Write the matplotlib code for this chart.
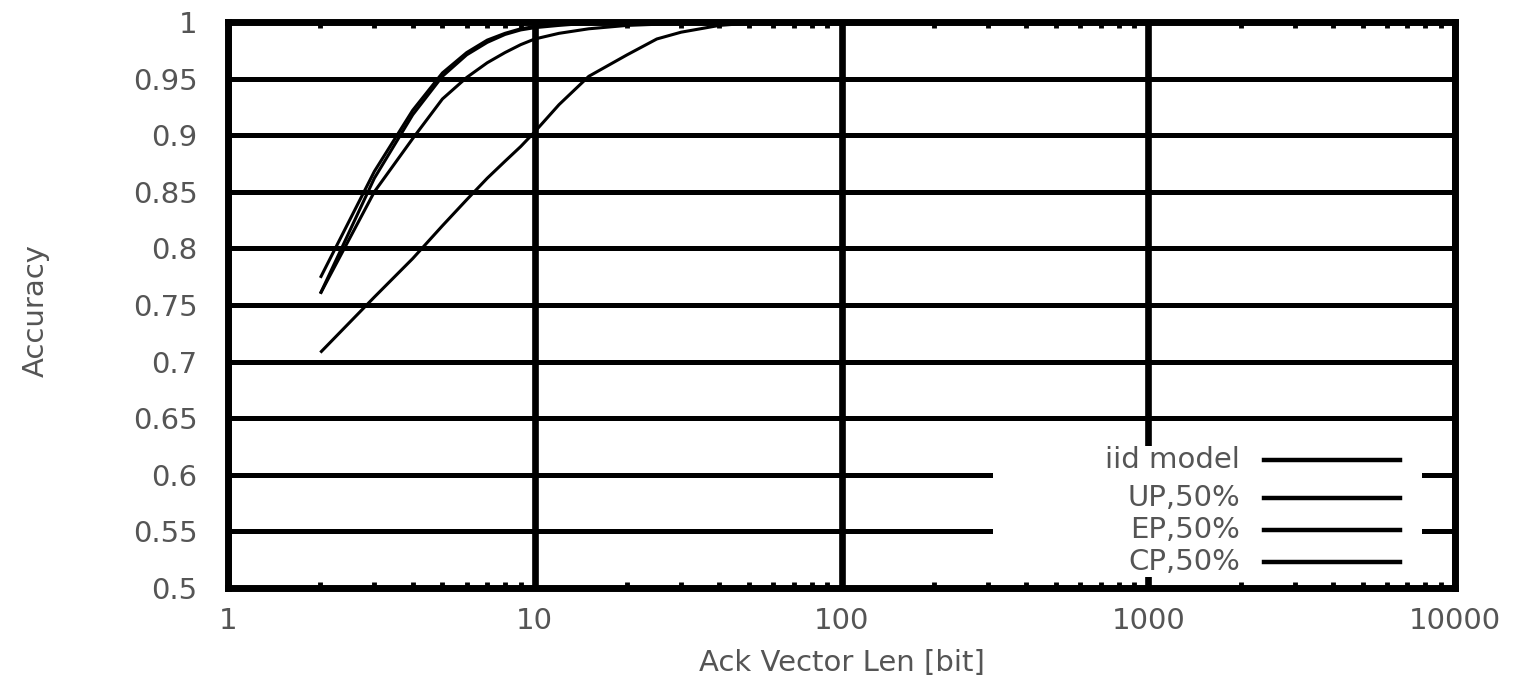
import matplotlib
matplotlib.use('Agg')
import matplotlib.pyplot as plt
from matplotlib.patches import Rectangle
from matplotlib.lines import Line2D
from matplotlib.ticker import FixedLocator, NullFormatter

# values
ack_len = [2, 3, 4, 5, 6, 7, 8, 9, 10, 12, 15, 20, 25, 30, 40, 50]
acc_iid = [0.708, 0.757, 0.791, 0.820, 0.843, 0.862, 0.877, 0.890, 0.903,
           0.927, 0.952, 0.971, 0.985, 0.991, 0.997, 0.999]
acc_up = [0.774, 0.868, 0.922, 0.955, 0.973, 0.984, 0.990, 0.994, 0.996,
          0.998, 0.999, 1.0, 1.0, 1.0, 1.0, 1.0]
acc_ep = [0.760, 0.862, 0.918, 0.952, 0.971, 0.982, 0.989, 0.993, 0.995,
          0.997, 0.999, 1.0, 1.0, 1.0, 1.0, 1.0]
acc_cp = [0.760, 0.850, 0.897, 0.932, 0.951, 0.964, 0.973, 0.980, 0.985,
          0.990, 0.994, 0.997, 0.998, 0.999, 1.0, 1.0]

series_names = ['iid model', 'UP,50%', 'EP,50%', 'CP,50%']
series_vals = [acc_iid, acc_up, acc_ep, acc_cp]

x_ticks = [1, 10, 100, 1000, 10000]
x_labels = ['1', '10', '100', '1000', '10000']
y_ticks = [0.5, 0.55, 0.6, 0.65, 0.7, 0.75, 0.8, 0.85, 0.9, 0.95, 1.0]
y_labels = ['0.5', '0.55', '0.6', '0.65', '0.7', '0.75', '0.8', '0.85', '0.9', '0.95', '1']

txt_col = '#555555'
fs = 21

fig = plt.figure(figsize=(15.24, 6.91), dpi=100)
ax = fig.add_axes([228 / 1524, 1 - 588 / 691, 1227 / 1524, 566 / 691])
ax.set_xscale('log')
ax.set_xlim(1, 10000)
ax.set_ylim(0.5, 1.0)

# grid drawn by hand so the legend box can sit on top of it
for yv in y_ticks:
    ax.axhline(yv, color='black', lw=3.6, zorder=1)
for xv in x_ticks:
    ax.axvline(xv, color='black', lw=4.8, zorder=1)

for vals in series_vals:
    ax.plot(ack_len, vals, color='black', lw=2.2, zorder=3, solid_capstyle='butt')

ax.set_xticks(x_ticks)
ax.set_xticklabels(x_labels)
ax.set_yticks(y_ticks)
ax.set_yticklabels(y_labels)
minors = [m * 10 ** d for d in range(4) for m in range(2, 10)]
ax.xaxis.set_minor_locator(FixedLocator(minors))
ax.xaxis.set_minor_formatter(NullFormatter())
ax.tick_params(axis='both', which='both', direction='in', top=True, right=True,
               color='black', labelcolor=txt_col, labelsize=fs)
ax.tick_params(axis='x', which='minor', length=4, width=3.5)
ax.tick_params(axis='x', which='major', length=0, pad=14)
ax.tick_params(axis='y', which='major', length=0, pad=22)

for sp in ax.spines.values():
    sp.set_linewidth(5)
    sp.set_zorder(4)

ax.set_xlabel('Ack Vector Len [bit]', fontsize=fs, color=txt_col)
ax.xaxis.set_label_coords(0.5, -0.108)
ax.set_ylabel('Accuracy', fontsize=fs, color=txt_col)
ax.yaxis.set_label_coords(-0.145, 0.49)

# legend: white box, right aligned text, sample line after it
ax.add_patch(Rectangle((0.6235, 0.0194), 0.3495, 0.2316, transform=ax.transAxes,
                       facecolor='white', edgecolor='none', zorder=2))
row_y = [0.226, 0.159, 0.1025, 0.046]
for name, yy in zip(series_names, row_y):
    ax.text(0.825, yy, name, transform=ax.transAxes, ha='right', va='center',
            fontsize=fs, color=txt_col, zorder=5)
    ax.add_line(Line2D([0.8443, 0.955], [yy, yy], transform=ax.transAxes,
                       color='black', lw=3.2, zorder=5))

fig.savefig('out.png', dpi=100)
